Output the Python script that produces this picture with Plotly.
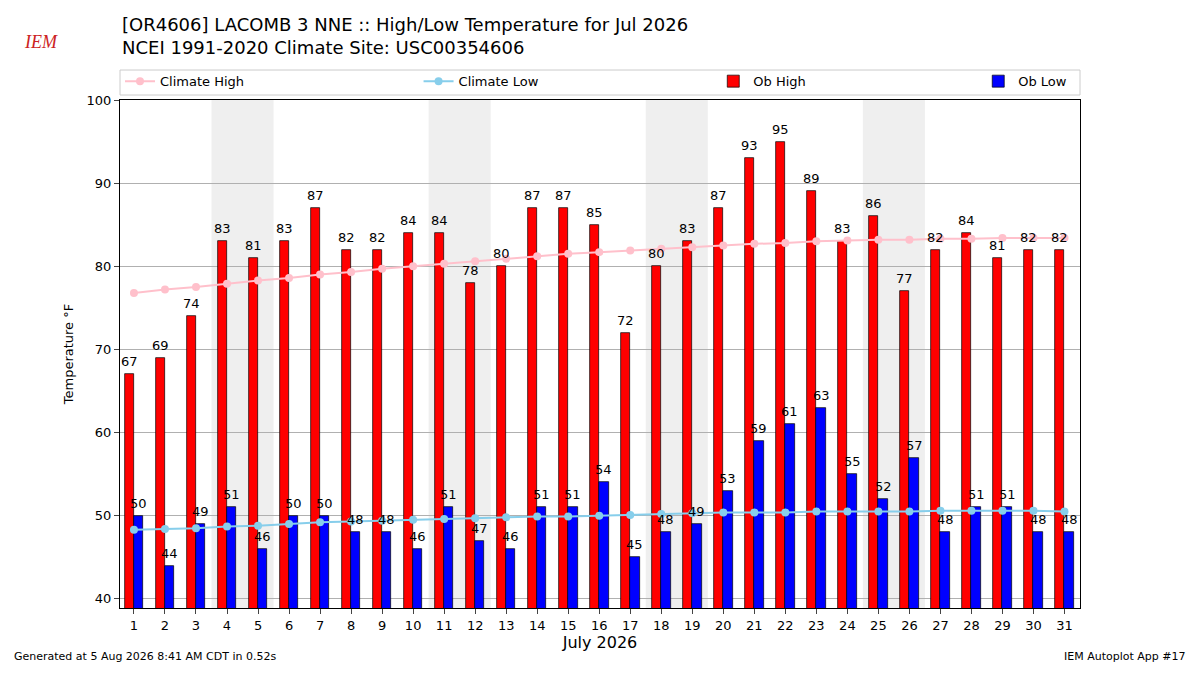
import plotly.graph_objects as go

days = list(range(1, 32))
ob_high = [67,69,74,83,81,83,87,82,82,84,84,78,80,87,87,85,72,80,83,87,93,95,89,83,86,77,82,84,81,82,82]
ob_low = [50,44,49,51,46,50,50,48,48,46,51,47,46,51,51,54,45,48,49,53,59,61,63,55,52,57,48,51,51,48,48]
clim_high = [76.8,77.2,77.5,77.9,78.3,78.6,79.0,79.3,79.7,80.0,80.3,80.6,80.9,81.2,81.5,81.7,81.9,82.1,82.3,82.5,82.7,82.8,83.0,83.1,83.2,83.2,83.3,83.3,83.4,83.4,83.4]
clim_low = [48.3,48.4,48.5,48.7,48.8,49.0,49.2,49.3,49.4,49.5,49.6,49.7,49.8,49.9,49.9,50.0,50.1,50.2,50.3,50.4,50.4,50.4,50.5,50.5,50.5,50.5,50.6,50.6,50.6,50.6,50.5]
weekends = [4, 11, 18, 25]

fig = go.Figure()
for w in weekends:
    fig.add_vrect(x0=w-0.5, x1=w+1.5, fillcolor="#efefef", line_width=0, layer="below")

bw = 0.3
xh = [d - bw/2 for d in days]
xl = [d + bw/2 for d in days]
fig.add_trace(go.Bar(x=xh, y=ob_high, width=bw, name="Ob High", legend="legend3", showlegend=True,
                     marker=dict(color="red", line=dict(color="black", width=0.7))))
fig.add_trace(go.Bar(x=xl, y=ob_low, width=bw, name="Ob Low", legend="legend4", showlegend=True,
                     marker=dict(color="blue", line=dict(color="black", width=0.7))))
fig.add_trace(go.Scatter(x=days, y=clim_high, mode="lines+markers", name="Climate High", legend="legend",
                         showlegend=True, line=dict(color="pink", width=2), marker=dict(color="pink", size=8)))
fig.add_trace(go.Scatter(x=days, y=clim_low, mode="lines+markers", name="Climate Low", legend="legend2",
                         showlegend=True, line=dict(color="skyblue", width=2), marker=dict(color="skyblue", size=8)))
for xs, vals in ((xh, ob_high), (xl, ob_low)):
    for x, v in zip(xs, vals):
        fig.add_annotation(x=x, y=v, text=str(v), showarrow=False, yanchor="bottom", yshift=3,
                           font=dict(size=13, color="black"))

def leg(x):
    return dict(orientation="h", x=x, y=1.037, xanchor="left", yanchor="middle",
                bgcolor="rgba(0,0,0,0)", font=dict(size=13))

fig.update_layout(
    width=1184, height=659, plot_bgcolor="white", paper_bgcolor="white", showlegend=True,
    font=dict(family="DejaVu Sans", size=13, color="black"),
    margin=dict(l=112, r=112, t=92, b=59, autoexpand=False),
    barmode="overlay", bargap=0,
    legend=leg(0.0), legend2=leg(0.311), legend3=leg(0.618), legend4=leg(0.894),
    xaxis=dict(range=[0.55, 31.5], tickmode="array", tickvals=days, ticktext=[str(d) for d in days],
               showline=True, linecolor="black", mirror=True, ticks="outside", ticklen=5, showgrid=False,
               tickfont=dict(size=13),
               title=dict(text="July 2026", font=dict(size=16), standoff=4), zeroline=False),
    yaxis=dict(range=[38.9, 100], tickvals=[40,50,60,70,80,90,100], showline=True, linecolor="black",
               mirror=True, ticks="outside", ticklen=5, showgrid=True, gridcolor="#b0b0b0",
               tickfont=dict(size=13),
               title=dict(text="Temperature °F", font=dict(size=13), standoff=10), zeroline=False),
)
fig.add_shape(type="rect", xref="paper", yref="paper", x0=0, x1=1, y0=1.0098, y1=1.059,
              line=dict(color="#cccccc", width=1), fillcolor="rgba(0,0,0,0)")

fig.add_annotation(text="[OR4606] LACOMB 3 NNE :: High/Low Temperature for Jul 2026<br>NCEI 1991-2020 Climate Site: USC00354606",
                   xref="paper", yref="paper", x=0, y=1.079, xanchor="left", yanchor="bottom",
                   showarrow=False, align="left", font=dict(size=18))
fig.add_annotation(text="<i>IEM</i>", xref="paper", yref="paper", x=-0.102, y=1.114, xanchor="left",
                   yanchor="middle", showarrow=False, font=dict(size=18, color="#cc2222", family="Liberation Serif"))
fig.add_annotation(text="Generated at 5 Aug 2026 8:41 AM CDT in 0.52s", xref="paper", yref="paper",
                   x=-0.1125, y=-0.112, xanchor="left", yanchor="bottom", showarrow=False, font=dict(size=11))
fig.add_annotation(text="IEM Autoplot App #17", xref="paper", yref="paper",
                   x=1.1125, y=-0.112, xanchor="right", yanchor="bottom", showarrow=False, font=dict(size=11))
fig.write_html("out.html")
